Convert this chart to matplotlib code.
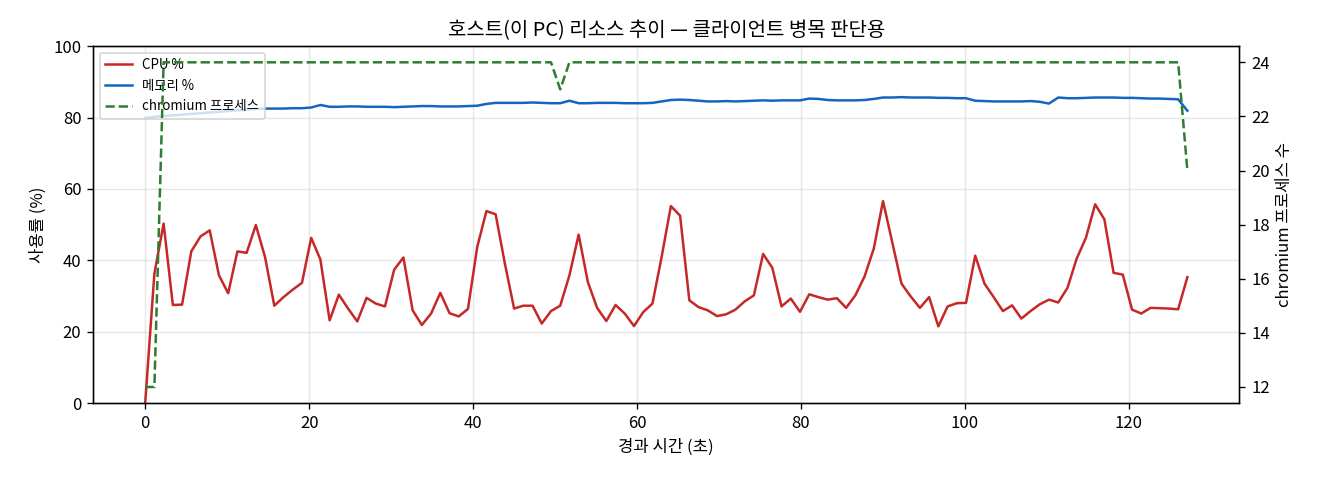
import numpy as np
import matplotlib
matplotlib.use("Agg")
import matplotlib.pyplot as plt

plt.rcParams['font.family'] = ['Noto Sans CJK KR', 'DejaVu Sans']

SAMPLE_SEC = 1.125  # sampling interval (s)

cpu = [0.0, 36.3, 50.3, 27.5, 27.6, 42.5, 46.7, 48.4, 35.8, 30.8,
       42.5, 42.1, 49.9, 40.9, 27.3, 29.7, 31.8, 33.7, 46.3, 40.2,
       23.2, 30.4, 26.5, 22.9, 29.5, 27.9, 27.1, 37.4, 40.8, 26.0,
       21.9, 25.1, 30.9, 25.2, 24.3, 26.4, 43.7, 53.8, 52.9, 39.1,
       26.5, 27.3, 27.3, 22.3, 25.8, 27.3, 35.8, 47.2, 33.9, 26.7,
       23.0, 27.5, 25.1, 21.6, 25.5, 27.9, 41.0, 55.2, 52.5, 28.8,
       26.9, 26.0, 24.4, 24.9, 26.2, 28.5, 30.2, 41.8, 37.9, 27.1,
       29.3, 25.6, 30.5, 29.7, 29.0, 29.4, 26.7, 30.2, 35.5, 43.3,
       56.6, 45.1, 33.5, 29.9, 26.7, 29.7, 21.5, 27.1, 28.0, 28.1,
       41.3, 33.5, 29.7, 25.8, 27.4, 23.7, 25.8, 27.7, 29.0, 28.2,
       32.3, 40.5, 46.3, 55.7, 51.5, 36.5, 36.0, 26.2, 25.1, 26.7,
       26.6, 26.5, 26.3, 35.3]

mem = [79.9, 80.2, 80.4, 80.6, 80.8, 81.0, 81.2, 81.4, 81.6, 81.8,
       82.0, 82.2, 82.4, 82.5, 82.5, 82.5, 82.6, 82.6, 82.8, 83.5,
       83.0, 83.0, 83.1, 83.1, 83.0, 83.0, 83.0, 82.9, 83.0, 83.1,
       83.2, 83.2, 83.1, 83.1, 83.1, 83.2, 83.3, 83.8, 84.1, 84.1,
       84.1, 84.1, 84.2, 84.1, 84.0, 84.0, 84.7, 84.0, 84.0, 84.1,
       84.1, 84.1, 84.0, 84.0, 84.0, 84.1, 84.5, 84.9, 85.0, 84.9,
       84.7, 84.5, 84.5, 84.6, 84.5, 84.6, 84.7, 84.8, 84.7, 84.8,
       84.8, 84.8, 85.3, 85.2, 84.9, 84.8, 84.8, 84.8, 84.9, 85.2,
       85.6, 85.6, 85.7, 85.6, 85.6, 85.6, 85.5, 85.5, 85.4, 85.4,
       84.7, 84.6, 84.5, 84.5, 84.5, 84.5, 84.6, 84.4, 83.9, 85.6,
       85.4, 85.4, 85.5, 85.6, 85.6, 85.6, 85.5, 85.5, 85.4, 85.3,
       85.3, 85.2, 85.1, 81.9]

procs = [12, 12] + [24] * 43 + [23] + [24] * 67 + [20]

t = np.arange(len(cpu)) * SAMPLE_SEC

fig, ax1 = plt.subplots(figsize=(11, 4), dpi=120)
fig.subplots_adjust(left=0.0705, right=0.939, bottom=0.16, top=0.904)

l1, = ax1.plot(t, cpu, color='#c62828', lw=1.5, label='CPU %')
l2, = ax1.plot(t, mem, color='#1565c0', lw=1.5, label='메모리 %')
ax1.set_ylim(0, 100)
ax1.set_xlabel('경과 시간 (초)')
ax1.set_ylabel('사용률 (%)')
ax1.grid(True, alpha=0.3)

ax2 = ax1.twinx()
l3, = ax2.plot(t, procs, color='#2e7d32', lw=1.5, ls='--',
               label='chromium 프로세스')
ax2.set_ylabel('chromium 프로세스 수')

ax1.legend(handles=[l1, l2, l3], loc='upper left', fontsize=8)
ax1.set_title('호스트(이 PC) 리소스 추이 — 클라이언트 병목 판단용')

fig.savefig('out.png')
